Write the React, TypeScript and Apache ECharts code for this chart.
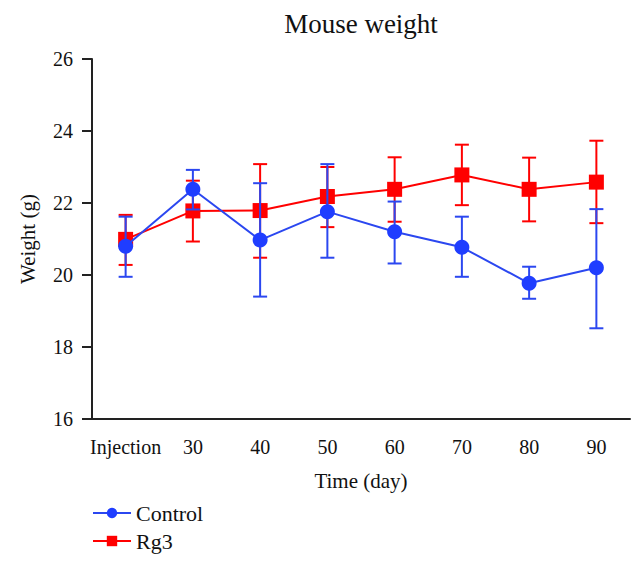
import React, { useEffect, useRef } from "react";
import * as echarts from "echarts";

const categories = ["Injection", "30", "40", "50", "60", "70", "80", "90"];
const controlMean = [20.8, 22.38, 20.97, 21.76, 21.2, 20.77, 19.77, 20.2];
const controlLow = [19.95, 21.82, 19.4, 20.48, 20.32, 19.95, 19.34, 18.52];
const controlHigh = [21.62, 22.92, 22.55, 23.08, 22.04, 21.62, 20.23, 21.83];
const rg3Mean = [20.99, 21.78, 21.79, 22.18, 22.38, 22.78, 22.38, 22.58];
const rg3Low = [20.28, 20.93, 20.48, 21.33, 21.48, 21.94, 21.49, 21.44];
const rg3High = [21.67, 22.62, 23.08, 23.0, 23.27, 23.62, 23.26, 23.73];

const BLUE = "#1f3dff";
const BLUE_LINE = "#2b47f0";
const RED = "#ff0000";
const FONT = "Liberation Serif";

function errorSeries(low: number[], high: number[], color: string, z: number) {
  return {
    type: "custom",
    z,
    silent: true,
    data: low.map((l, i) => [i, l, high[i]]),
    renderItem: (params: any, api: any) => {
      const x = api.value(0);
      const lo = api.coord([x, api.value(1)]);
      const hi = api.coord([x, api.value(2)]);
      const w = 7;
      const style = { stroke: color, lineWidth: 2, fill: "none" };
      return {
        type: "group",
        children: [
          { type: "line", shape: { x1: lo[0], y1: lo[1], x2: hi[0], y2: hi[1] }, style },
          { type: "line", shape: { x1: lo[0] - w, y1: lo[1], x2: lo[0] + w, y2: lo[1] }, style },
          { type: "line", shape: { x1: hi[0] - w, y1: hi[1], x2: hi[0] + w, y2: hi[1] }, style },
        ],
      };
    },
  };
}

export default function App() {
  const ref = useRef<HTMLDivElement>(null);
  useEffect(() => {
    if (!ref.current) return;
    const chart = echarts.init(ref.current, undefined, { renderer: "svg" });
    chart.setOption({
      animation: false,
      backgroundColor: "#ffffff",
      title: {
        text: "Mouse weight",
        left: 356,
        textAlign: "center",
        top: 5,
        textStyle: { fontFamily: FONT, fontSize: 27, fontWeight: "normal", color: "#111" },
      },
      legend: {
        data: ["Control", "Rg3"],
        orient: "vertical",
        left: 87,
        top: 497,
        itemWidth: 38,
        itemHeight: 13,
        itemGap: 6,
        textStyle: { fontFamily: FONT, fontSize: 22, color: "#111" },
      },
      grid: { left: 92, right: 14, top: 59, bottom: 146, containLabel: false },
      xAxis: {
        type: "category",
        data: categories,
        boundaryGap: true,
        name: "Time (day)",
        nameLocation: "middle",
        nameGap: 51,
        nameTextStyle: { fontFamily: FONT, fontSize: 21, color: "#111" },
        axisLine: { lineStyle: { color: "#222", width: 2 } },
        axisTick: { alignWithLabel: true, interval: 0, length: 8, lineStyle: { color: "#222", width: 2 } },
        axisLabel: { interval: 0, fontFamily: FONT, fontSize: 20, color: "#111", margin: 18 },
      },
      yAxis: {
        type: "value",
        min: 16,
        max: 26,
        interval: 2,
        name: "Weight (g)",
        nameLocation: "middle",
        nameGap: 54,
        nameTextStyle: { fontFamily: FONT, fontSize: 21, color: "#111" },
        axisLine: { show: true, lineStyle: { color: "#222", width: 2 } },
        axisTick: { show: true, length: 10, lineStyle: { color: "#222", width: 2 } },
        axisLabel: { fontFamily: FONT, fontSize: 20, color: "#111", margin: 19 },
        splitLine: { show: false },
      },
      series: [
        errorSeries(rg3Low, rg3High, RED, 2),
        {
          name: "Rg3",
          type: "line",
          z: 3,
          data: rg3Mean,
          symbol: "rect",
          symbolSize: 15,
          itemStyle: { color: RED },
          lineStyle: { color: RED, width: 2 },
        },
        errorSeries(controlLow, controlHigh, BLUE_LINE, 4),
        {
          name: "Control",
          type: "line",
          z: 5,
          data: controlMean,
          symbol: "circle",
          symbolSize: 15,
          itemStyle: { color: BLUE },
          lineStyle: { color: BLUE_LINE, width: 2 },
        },
      ],
    });
    return () => chart.dispose();
  }, []);
  return (
    <div
      ref={ref}
      style={{ position: "absolute", left: 0, top: 0, width: 644, height: 565 }}
    />
  );
}
